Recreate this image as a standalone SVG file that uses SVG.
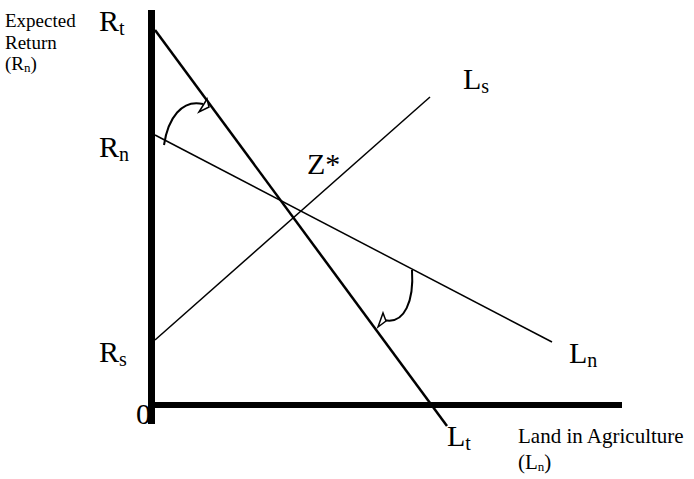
<svg xmlns="http://www.w3.org/2000/svg" width="694" height="479" viewBox="0 0 694 479">
<style>
text{font-family:"Liberation Serif","Times New Roman",serif;fill:#000}
.big{font-size:30px}
.small{font-size:19px}
.xl{font-size:21px}
.sub{font-size:20px}
.subs{font-size:13px}
.ln{stroke:#000;fill:none;stroke-linecap:butt}
.head{fill:#fff;stroke:#000;stroke-width:1.5;stroke-linejoin:miter}
</style>
<rect width="694" height="479" fill="#fff"/>
<g id="axes">
<rect x="148" y="10" width="7" height="414" fill="#000"/>
<rect x="148" y="402" width="474" height="6" fill="#000"/>
</g>
<g id="connectors">
<line id="Rt-Lt" class="ln" x1="155" y1="30" x2="447" y2="426" stroke-width="2.5"/>
<line id="Rn-Ln" class="ln" x1="155" y1="135" x2="552" y2="342" stroke-width="1.5"/>
<line id="Rs-Ls" class="ln" x1="155" y1="340" x2="430" y2="97" stroke-width="1.5"/>
<g id="arrow1">
<path class="ln" stroke-width="2" d="M164,145 C168,118 182,99 203,104"/>
<polygon class="head" points="199,112 207,99 209,107"/>
</g>
<g id="arrow2">
<path class="ln" stroke-width="2" d="M412,270 C414,300 405,325 384,320"/>
<polygon class="head" points="378,327 383,313 386,321"/>
</g>
</g>
<g id="y-label">
<text class="small" x="5" y="27">Expected</text>
<text class="small" x="5" y="49">Return</text>
<text class="small" x="5" y="70">(R<tspan class="subs" dy="2">n</tspan><tspan dy="-2">)</tspan></text>
</g>
<g id="x-label">
<text class="xl" x="518" y="443">Land in Agriculture</text>
<text class="xl" x="518" y="469">(L<tspan class="subs" dy="2">n</tspan><tspan dy="-2">)</tspan></text>
</g>
<g id="Rt"><text class="big" x="99" y="31">R<tspan class="sub" dy="4">t</tspan></text></g>
<g id="Rn"><text class="big" x="99" y="157">R<tspan class="sub" dy="4">n</tspan></text></g>
<g id="Rs"><text class="big" x="99" y="362">R<tspan class="sub" dy="4">s</tspan></text></g>
<g id="origin"><text class="big" x="136" y="424">0</text></g>
<g id="Z"><text class="big" x="307" y="174">Z*</text></g>
<g id="Ls"><text class="big" x="463" y="89">L<tspan class="sub" dy="4">s</tspan></text></g>
<g id="Ln"><text class="big" x="569" y="363">L<tspan class="sub" dy="4">n</tspan></text></g>
<g id="Lt"><text class="big" x="447" y="446">L<tspan class="sub" dy="4">t</tspan></text></g>
</svg>
